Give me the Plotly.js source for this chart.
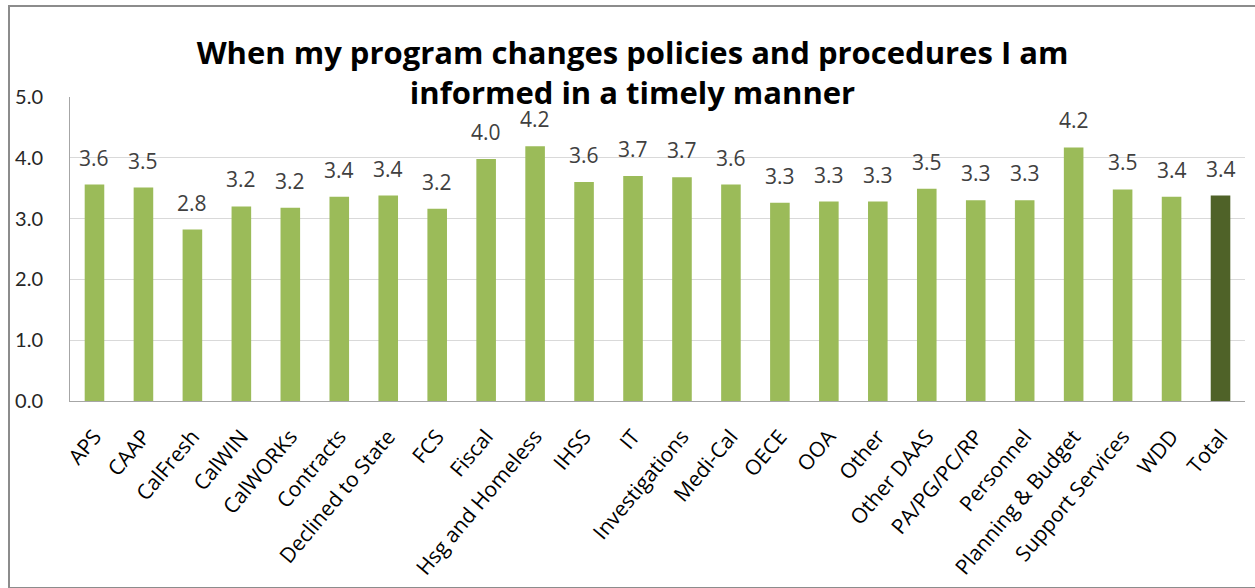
<!DOCTYPE html>
<html>
<head>
<meta charset="utf-8">
<script src="https://cdn.plot.ly/plotly-3.0.1.min.js"></script>
<style>
  html, body { margin: 0; padding: 0; background: #fff; }
  #chart { width: 1255px; height: 588px; position: absolute; left: 0; top: 0; }
  #frame { position: absolute; left: 8px; top: 5px; width: 1260px; height: 580px;
           border: 2px solid #8c8c8c; pointer-events: none; }
</style>
</head>
<body>
<div id="chart"></div>
<div id="frame"></div>
<script>
const categories = ["APS", "CAAP", "CalFresh", "CalWIN", "CalWORKs", "Contracts", "Declined to State",
  "FCS", "Fiscal", "Hsg and Homeless", "IHSS", "IT", "Investigations", "Medi-Cal", "OECE", "OOA",
  "Other", "Other DAAS", "PA/PG/PC/RP", "Personnel", "Planning & Budget", "Support Services", "WDD", "Total"];
const values = [3.56, 3.51, 2.82, 3.20, 3.18, 3.36, 3.38, 3.16, 3.98, 4.19, 3.60, 3.70, 3.68, 3.56,
  3.26, 3.28, 3.28, 3.49, 3.30, 3.30, 4.17, 3.48, 3.36, 3.38];
const yTicks = [0, 1, 2, 3, 4, 5];
const titleText = "When my program changes policies and procedures I am<br>informed in a timely manner";

const barColors = categories.map(c => c === "Total" ? "#4F6228" : "#9BBB59");

const trace = {
  type: "bar",
  x: categories,
  y: values,
  marker: { color: barColors },
  hoverinfo: "x+y"
};

const labels = categories.map((c, i) => ({
  x: c, y: values[i], xref: "x", yref: "y",
  text: values[i].toFixed(1),
  showarrow: false, yanchor: "bottom", yshift: 12, borderpad: 0,
  font: { family: "Open Sans, sans-serif", size: 21, color: "#404040" }
}));

const layout = {
  width: 1255, height: 588,
  margin: { l: 70, r: 10, t: 97, b: 187 },
  paper_bgcolor: "#ffffff",
  plot_bgcolor: "#ffffff",
  bargap: 0.6,
  showlegend: false,
  annotations: labels,
  title: {
    text: titleText,
    font: { family: "Open Sans, sans-serif", size: 31, color: "#000000", weight: "bold" },
    xref: "container", x: 0.504, xanchor: "center",
    yref: "container", y: 1 - 64 / 588, yanchor: "top"
  },
  xaxis: {
    type: "category",
    tickangle: -50,
    tickfont: { family: "Open Sans, sans-serif", size: 21, color: "#000000" },
    ticklabelstandoff: 14,
    showline: true, linecolor: "#a6a6a6", linewidth: 1,
    ticks: "", showgrid: false
  },
  yaxis: {
    range: [0, 5],
    tickvals: yTicks,
    ticktext: yTicks.map(v => v.toFixed(1)),
    tickfont: { family: "Lato, sans-serif", size: 20, color: "#262626" },
    ticklabelstandoff: 22,
    showline: true, linecolor: "#a6a6a6", linewidth: 1,
    showgrid: true, gridcolor: "#d9d9d9", gridwidth: 1,
    zeroline: false, ticks: ""
  }
};

Plotly.newPlot("chart", [trace], layout, { displayModeBar: false, staticPlot: true });
</script>
</body>
</html>
